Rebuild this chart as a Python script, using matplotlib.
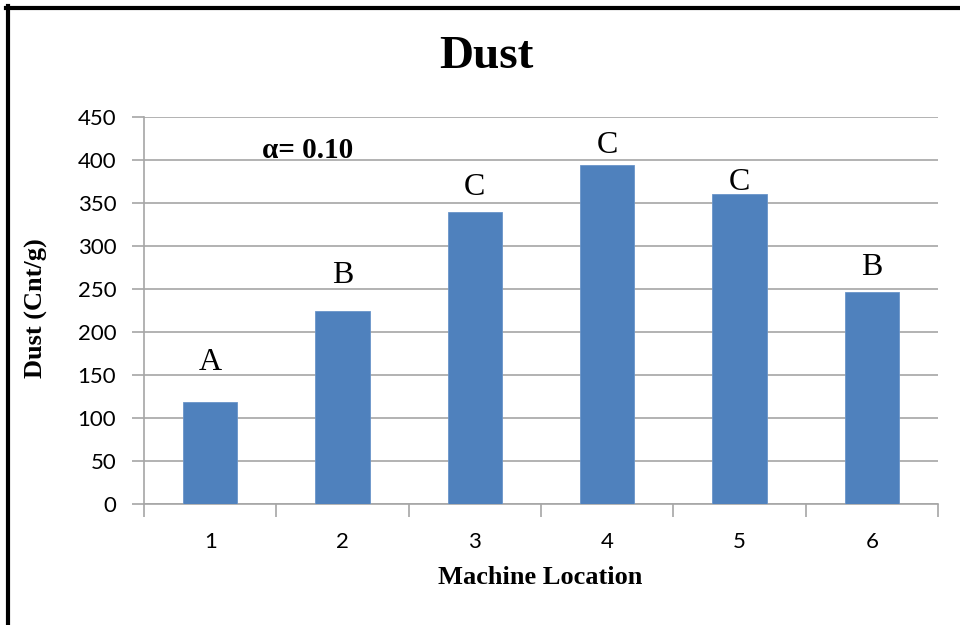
import matplotlib
matplotlib.use('Agg')
import matplotlib.pyplot as plt
from matplotlib.lines import Line2D

# data
locations = [1, 2, 3, 4, 5, 6]
dust = [119, 224, 339, 394, 360, 247]
groups = ['A', 'B', 'C', 'C', 'C', 'B']
group_y = [156, 257, 359, 408, 365, 266]  # where the letters sit
yticks = [0, 50, 100, 150, 200, 250, 300, 350, 400, 450]

serif = 'Liberation Serif'
grid_col = '#A6A6A6'

fig = plt.figure(figsize=(9.6, 6.25), dpi=100)
ax = fig.add_axes([144 / 960, 1 - 504 / 625, (938 - 144) / 960, (504 - 117) / 625])

ax.bar(locations, dust, width=0.41, color='#4F81BD', edgecolor='#6A95C9',
       linewidth=0.6, zorder=3)

for x, g, y in zip(locations, groups, group_y):
    ax.text(x, y, g, family=serif, fontsize=23, ha='center', va='baseline')

ax.text(1.39, 411, 'α= 0.10', family=serif, fontsize=21, fontweight='bold',
        ha='left', va='center')

ax.set_xlim(0.5, 6.5)
ax.set_ylim(0, 450)
ax.set_yticks(yticks)
ax.set_yticklabels([str(v) for v in yticks], family='Lato', fontsize=16)
ax.set_xticks(locations)
ax.set_xticklabels([str(v) for v in locations], family='Lato', fontsize=16)
ax.set_xticks([i + 0.5 for i in range(7)], minor=True)

ax.tick_params(axis='x', which='major', length=0, pad=20)
ax.tick_params(axis='x', which='minor', length=9, width=1.2, color=grid_col)
ax.tick_params(axis='y', length=9, width=1.2, color=grid_col, pad=11)

ax.grid(axis='y', color=grid_col, linewidth=1.2, zorder=0)
for s in ['top', 'right']:
    ax.spines[s].set_visible(False)
for s in ['left', 'bottom']:
    ax.spines[s].set_color(grid_col)
    ax.spines[s].set_linewidth(1.2)

fig.text(486 / 960, 1 - 57 / 625, 'Dust', family=serif, fontsize=34,
         fontweight='bold', ha='center', va='center')
fig.text(36 / 960, 1 - 308 / 625, 'Dust (Cnt/g)', family=serif, fontsize=19,
         fontweight='bold', rotation=90, ha='center', va='center')
fig.text(540 / 960, 1 - 578 / 625, 'Machine Location', family=serif,
         fontsize=19, fontweight='bold', ha='center', va='center')

# black frame on top and left edges
fig.add_artist(Line2D([6 / 960, 1], [1 - 8 / 625, 1 - 8 / 625],
                      transform=fig.transFigure, color='black', linewidth=3))
fig.add_artist(Line2D([8 / 960, 8 / 960], [0, 1 - 6 / 625],
                      transform=fig.transFigure, color='black', linewidth=3))

fig.savefig('out.png', dpi=100)
